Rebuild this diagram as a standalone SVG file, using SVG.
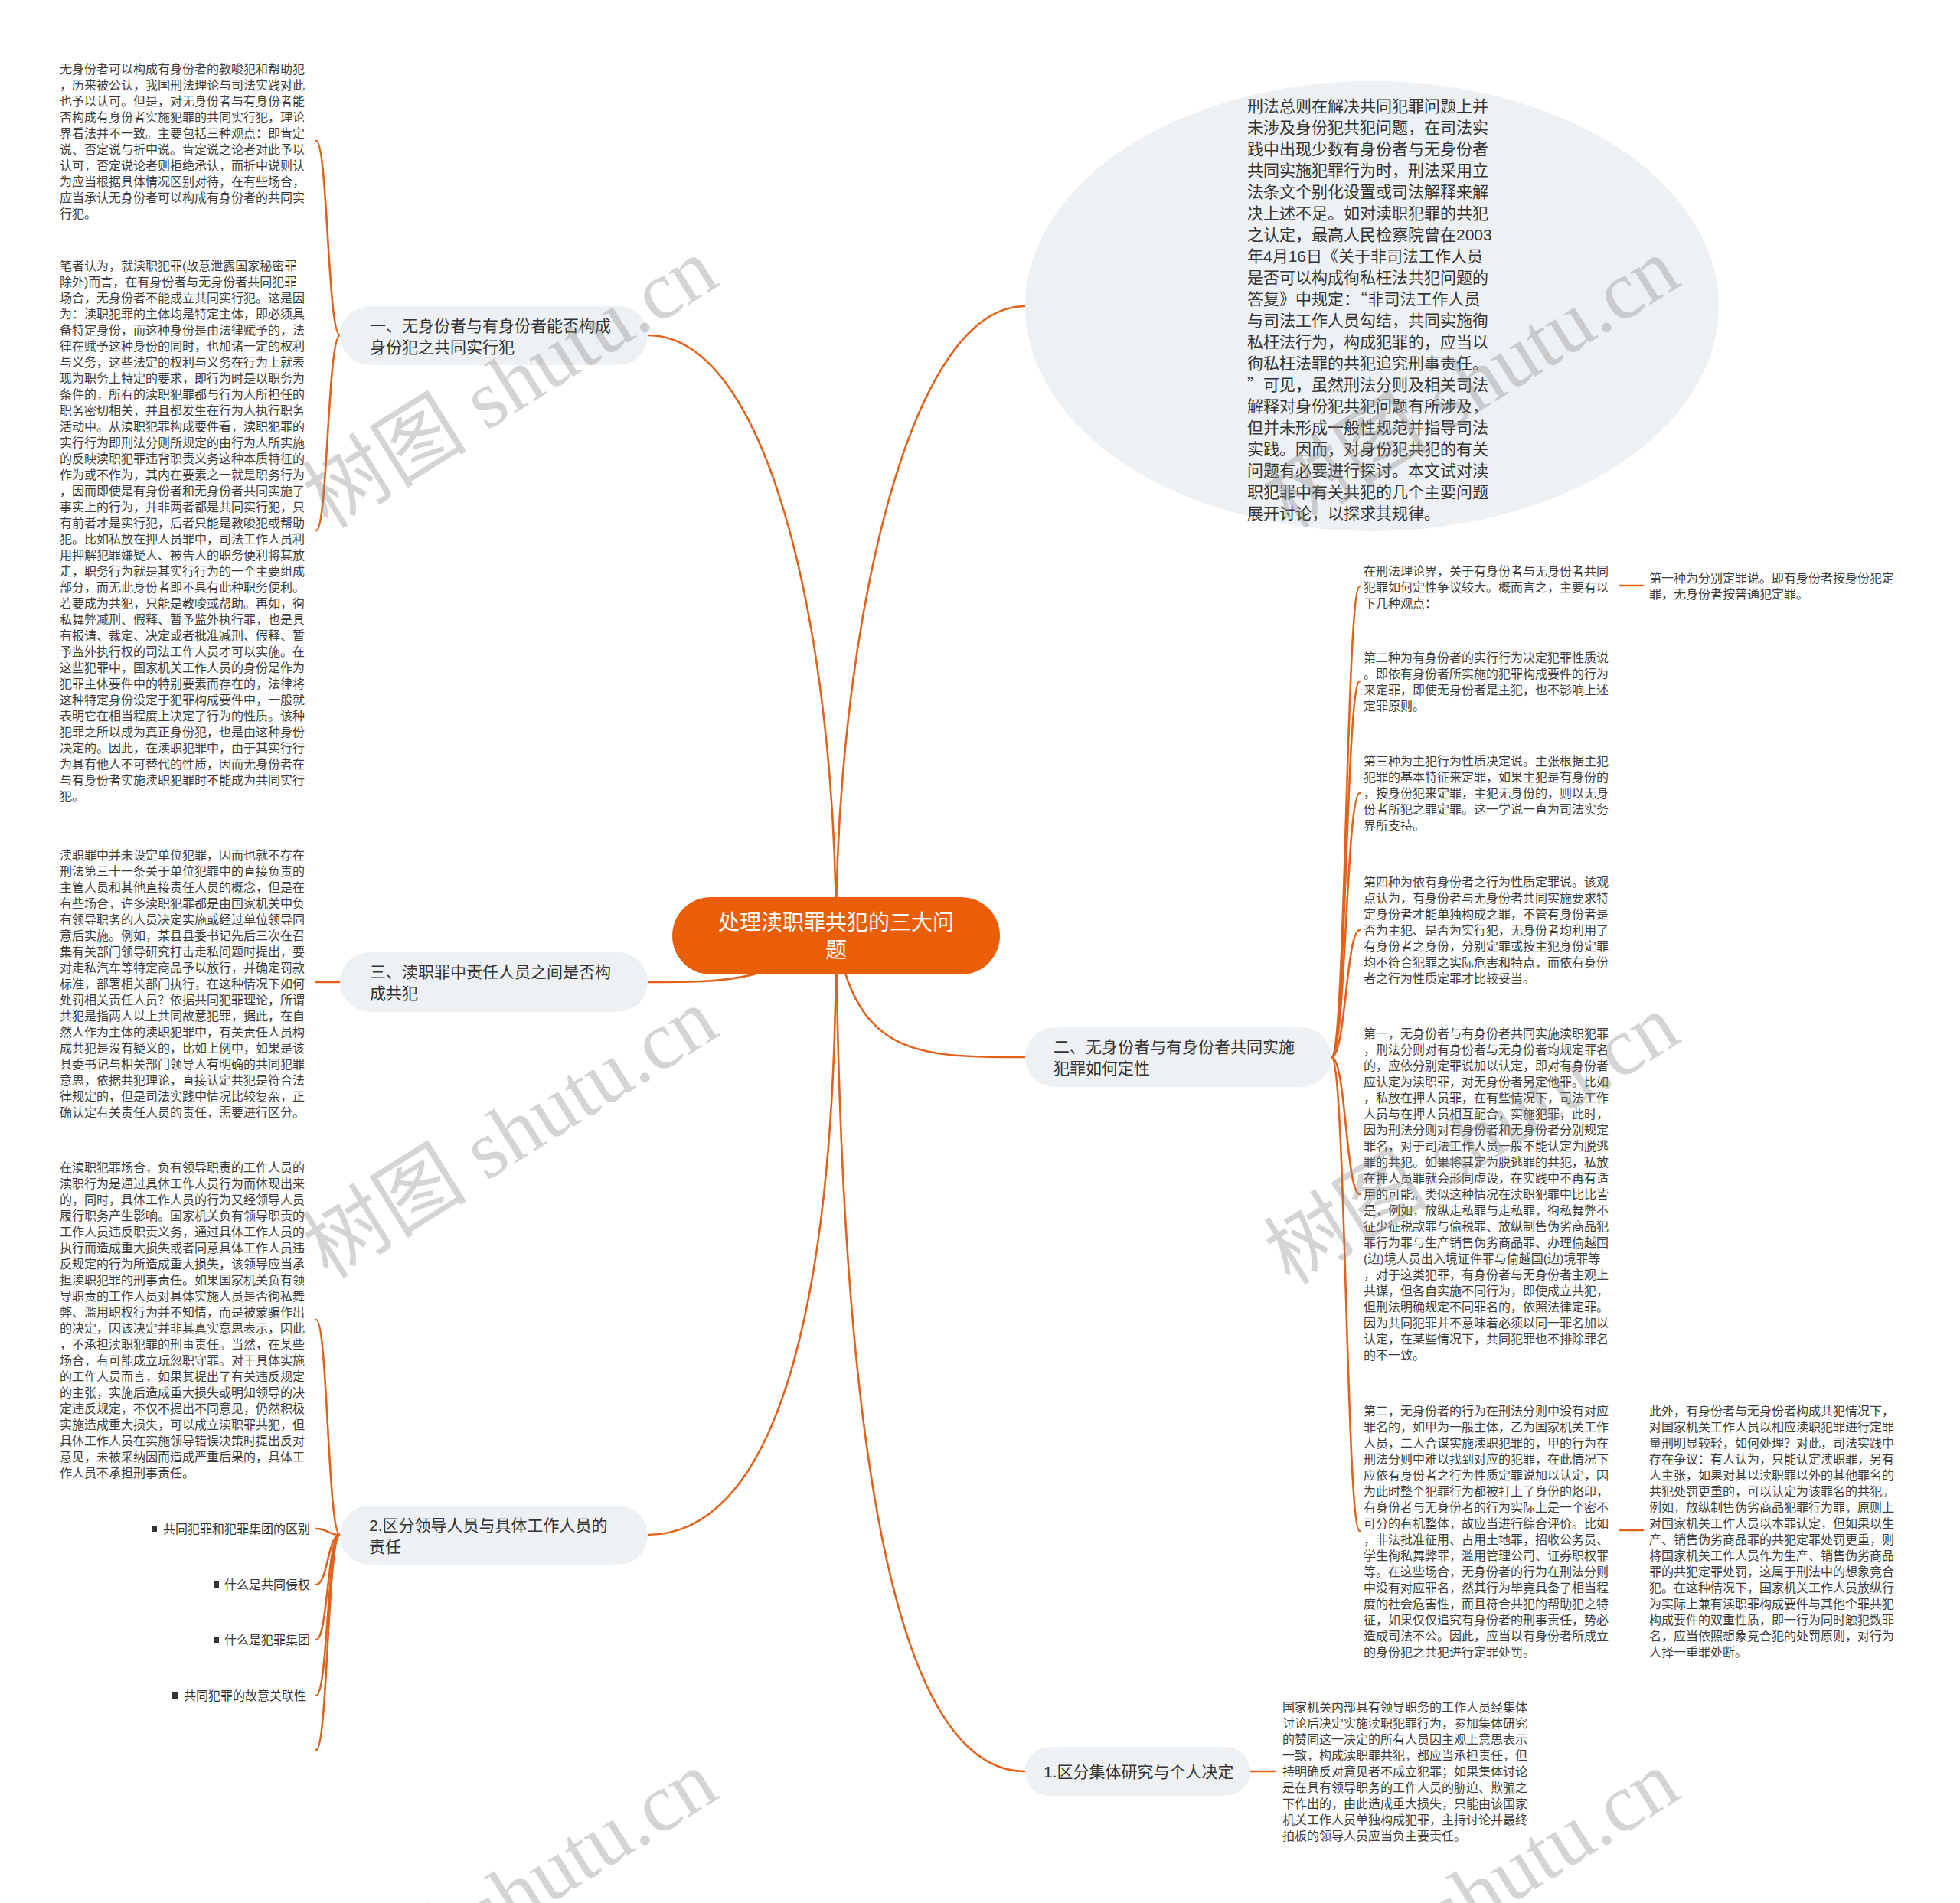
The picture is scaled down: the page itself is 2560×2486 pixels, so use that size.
<svg xmlns="http://www.w3.org/2000/svg" width="2560" height="2486" viewBox="0 0 2560 2486">
<style>
.bg{fill:#ffffff}
.link{fill:none;stroke:#E2621B;stroke-width:2.6;stroke-linecap:round}
.node{fill:#EEF1F4}
.center{fill:#EA5E08}
.nt{font-family:"Liberation Sans","Noto Sans CJK SC",sans-serif;font-size:21px;fill:#333333}
.cjk{font-family:"Noto Sans CJK SC",sans-serif}
.ct{font-family:"Liberation Sans","Noto Sans CJK SC",sans-serif;font-size:28px;fill:#ffffff;text-anchor:middle}
.st{font-family:"Liberation Sans","Noto Sans CJK SC",sans-serif;font-size:16px;fill:#3c3c3c}
.bt{font-family:"Liberation Sans","Noto Sans CJK SC",sans-serif;font-size:16px;fill:#333333;text-anchor:end}
.bul{fill:#333333}
.wm{font-family:"Liberation Serif","Noto Sans CJK SC",serif;font-size:108px;fill:#888888;fill-opacity:0.36;text-anchor:middle}
</style>
<rect class="bg" x="0" y="0" width="2560" height="2486"/>

<g id="connectors">
  <path class="link" d="M1092 1222 C1092 850, 1010 438, 846 438"/>
  <path class="link" d="M1092 1222 C1092 850, 1180 400, 1339 400"/>
  <path class="link" d="M1092 1222 C1000 1283, 950 1283, 846 1283"/>
  <path class="link" d="M1092 1222 C1092 1750, 1000 2005, 846 2005"/>
  <path class="link" d="M1092 1222 C1120 1381, 1200 1381, 1339 1381"/>
  <path class="link" d="M1092 1222 C1100 1950, 1180 2314, 1339 2314"/>
  <path class="link" d="M444 438 C428 438, 428 184, 413 184"/>
  <path class="link" d="M444 438 C428 438, 428 693, 413 693"/>
  <path class="link" d="M444 1283 L413 1283"/>
  <path class="link" d="M444 2005 C428 2005, 428 1724, 413 1724"/>
  <path class="link" d="M444 2005 C428 2005, 428 1997, 413 1997"/>
  <path class="link" d="M444 2005 C428 2005, 428 2070, 413 2070"/>
  <path class="link" d="M444 2005 C428 2005, 428 2142, 413 2142"/>
  <path class="link" d="M444 2005 C428 2005, 428 2215, 413 2215"/>
  <path class="link" d="M444 2005 C428 2005, 428 2286, 413 2286"/>
  <path class="link" d="M1739 1381 C1758 1381, 1758 766, 1776 766"/>
  <path class="link" d="M1739 1381 C1758 1381, 1758 890, 1776 890"/>
  <path class="link" d="M1739 1381 C1758 1381, 1758 1036, 1776 1036"/>
  <path class="link" d="M1739 1381 C1758 1381, 1758 1215, 1776 1215"/>
  <path class="link" d="M1739 1381 C1758 1381, 1758 1560, 1776 1560"/>
  <path class="link" d="M1739 1381 C1758 1381, 1758 2000, 1776 2000"/>
  <path class="link" d="M2116 765 L2146 765"/>
  <path class="link" d="M2116 1999 L2146 1999"/>
  <path class="link" d="M1633 2314 L1665 2314"/>
</g>

<g id="center">
  <rect class="center" x="878" y="1172" width="428" height="101" rx="50.5"/>
  <text class="ct" x="1092" y="1215">处理渎职罪共犯的三大问</text>
  <text class="ct" x="1092" y="1251">题</text>
</g>

<g id="node-intro">
  <ellipse class="node" cx="1792" cy="400" rx="453" ry="294"/>
  <text class="nt" x="1629" y="146">
    <tspan x="1629">刑法总则在解决共同犯罪问题上并</tspan>
    <tspan x="1629" dy="28">未涉及身份犯共犯问题，在司法实</tspan>
    <tspan x="1629" dy="28">践中出现少数有身份者与无身份者</tspan>
    <tspan x="1629" dy="28">共同实施犯罪行为时，刑法采用立</tspan>
    <tspan x="1629" dy="28">法条文个别化设置或司法解释来解</tspan>
    <tspan x="1629" dy="28">决上述不足。如对渎职犯罪的共犯</tspan>
    <tspan x="1629" dy="28">之认定，最高人民检察院曾在2003</tspan>
    <tspan x="1629" dy="28">年4月16日《关于非司法工作人员</tspan>
    <tspan x="1629" dy="28">是否可以构成徇私枉法共犯问题的</tspan>
    <tspan x="1629" dy="28">答复》中规定：<tspan class="cjk">“</tspan>非司法工作人员</tspan>
    <tspan x="1629" dy="28">与司法工作人员勾结，共同实施徇</tspan>
    <tspan x="1629" dy="28">私枉法行为，构成犯罪的，应当以</tspan>
    <tspan x="1629" dy="28">徇私枉法罪的共犯追究刑事责任。</tspan>
    <tspan x="1629" dy="28"><tspan class="cjk">”</tspan>可见，虽然刑法分则及相关司法</tspan>
    <tspan x="1629" dy="28">解释对身份犯共犯问题有所涉及，</tspan>
    <tspan x="1629" dy="28">但并未形成一般性规范并指导司法</tspan>
    <tspan x="1629" dy="28">实践。因而，对身份犯共犯的有关</tspan>
    <tspan x="1629" dy="28">问题有必要进行探讨。本文试对渎</tspan>
    <tspan x="1629" dy="28">职犯罪中有关共犯的几个主要问题</tspan>
    <tspan x="1629" dy="28">展开讨论，以探求其规律。</tspan>
  </text>
</g>

<g id="node-1">
  <rect class="node" x="444" y="400" width="402" height="77" rx="38.5"/>
  <text class="nt" x="483" y="433">
    <tspan x="483">一、无身份者与有身份者能否构成</tspan>
    <tspan x="483" dy="28">身份犯之共同实行犯</tspan>
  </text>
</g>

<g id="text-1a">
  <text class="st" x="78" y="96">
    <tspan x="78">无身份者可以构成有身份者的教唆犯和帮助犯</tspan>
    <tspan x="78" dy="21">，历来被公认，我国刑法理论与司法实践对此</tspan>
    <tspan x="78" dy="21">也予以认可。但是，对无身份者与有身份者能</tspan>
    <tspan x="78" dy="21">否构成有身份者实施犯罪的共同实行犯，理论</tspan>
    <tspan x="78" dy="21">界看法并不一致。主要包括三种观点：即肯定</tspan>
    <tspan x="78" dy="21">说、否定说与折中说。肯定说之论者对此予以</tspan>
    <tspan x="78" dy="21">认可，否定说论者则拒绝承认，而折中说则认</tspan>
    <tspan x="78" dy="21">为应当根据具体情况区别对待，在有些场合，</tspan>
    <tspan x="78" dy="21">应当承认无身份者可以构成有身份者的共同实</tspan>
    <tspan x="78" dy="21">行犯。</tspan>
  </text>
</g>

<g id="text-1b">
  <text class="st" x="78" y="353">
    <tspan x="78">笔者认为，就渎职犯罪(故意泄露国家秘密罪</tspan>
    <tspan x="78" dy="21">除外)而言，在有身份者与无身份者共同犯罪</tspan>
    <tspan x="78" dy="21">场合，无身份者不能成立共同实行犯。这是因</tspan>
    <tspan x="78" dy="21">为：渎职犯罪的主体均是特定主体，即必须具</tspan>
    <tspan x="78" dy="21">备特定身份，而这种身份是由法律赋予的，法</tspan>
    <tspan x="78" dy="21">律在赋予这种身份的同时，也加诸一定的权利</tspan>
    <tspan x="78" dy="21">与义务，这些法定的权利与义务在行为上就表</tspan>
    <tspan x="78" dy="21">现为职务上特定的要求，即行为时是以职务为</tspan>
    <tspan x="78" dy="21">条件的，所有的渎职犯罪都与行为人所担任的</tspan>
    <tspan x="78" dy="21">职务密切相关，并且都发生在行为人执行职务</tspan>
    <tspan x="78" dy="21">活动中。从渎职犯罪构成要件看，渎职犯罪的</tspan>
    <tspan x="78" dy="21">实行行为即刑法分则所规定的由行为人所实施</tspan>
    <tspan x="78" dy="21">的反映渎职犯罪违背职责义务这种本质特征的</tspan>
    <tspan x="78" dy="21">作为或不作为，其内在要素之一就是职务行为</tspan>
    <tspan x="78" dy="21">，因而即使是有身份者和无身份者共同实施了</tspan>
    <tspan x="78" dy="21">事实上的行为，并非两者都是共同实行犯，只</tspan>
    <tspan x="78" dy="21">有前者才是实行犯，后者只能是教唆犯或帮助</tspan>
    <tspan x="78" dy="21">犯。比如私放在押人员罪中，司法工作人员利</tspan>
    <tspan x="78" dy="21">用押解犯罪嫌疑人、被告人的职务便利将其放</tspan>
    <tspan x="78" dy="21">走，职务行为就是其实行行为的一个主要组成</tspan>
    <tspan x="78" dy="21">部分，而无此身份者即不具有此种职务便利。</tspan>
    <tspan x="78" dy="21">若要成为共犯，只能是教唆或帮助。再如，徇</tspan>
    <tspan x="78" dy="21">私舞弊减刑、假释、暂予监外执行罪，也是具</tspan>
    <tspan x="78" dy="21">有报请、裁定、决定或者批准减刑、假释、暂</tspan>
    <tspan x="78" dy="21">予监外执行权的司法工作人员才可以实施。在</tspan>
    <tspan x="78" dy="21">这些犯罪中，国家机关工作人员的身份是作为</tspan>
    <tspan x="78" dy="21">犯罪主体要件中的特别要素而存在的，法律将</tspan>
    <tspan x="78" dy="21">这种特定身份设定于犯罪构成要件中，一般就</tspan>
    <tspan x="78" dy="21">表明它在相当程度上决定了行为的性质。该种</tspan>
    <tspan x="78" dy="21">犯罪之所以成为真正身份犯，也是由这种身份</tspan>
    <tspan x="78" dy="21">决定的。因此，在渎职犯罪中，由于其实行行</tspan>
    <tspan x="78" dy="21">为具有他人不可替代的性质，因而无身份者在</tspan>
    <tspan x="78" dy="21">与有身份者实施渎职犯罪时不能成为共同实行</tspan>
    <tspan x="78" dy="21">犯。</tspan>
  </text>
</g>

<g id="node-3">
  <rect class="node" x="444" y="1244" width="402" height="78" rx="39"/>
  <text class="nt" x="483" y="1277">
    <tspan x="483">三、渎职罪中责任人员之间是否构</tspan>
    <tspan x="483" dy="28">成共犯</tspan>
  </text>
</g>

<g id="text-3">
  <text class="st" x="78" y="1123">
    <tspan x="78">渎职罪中并未设定单位犯罪，因而也就不存在</tspan>
    <tspan x="78" dy="21">刑法第三十一条关于单位犯罪中的直接负责的</tspan>
    <tspan x="78" dy="21">主管人员和其他直接责任人员的概念，但是在</tspan>
    <tspan x="78" dy="21">有些场合，许多渎职犯罪都是由国家机关中负</tspan>
    <tspan x="78" dy="21">有领导职务的人员决定实施或经过单位领导同</tspan>
    <tspan x="78" dy="21">意后实施。例如，某县县委书记先后三次在召</tspan>
    <tspan x="78" dy="21">集有关部门领导研究打击走私问题时提出，要</tspan>
    <tspan x="78" dy="21">对走私汽车等特定商品予以放行，并确定罚款</tspan>
    <tspan x="78" dy="21">标准，部署相关部门执行，在这种情况下如何</tspan>
    <tspan x="78" dy="21">处罚相关责任人员？依据共同犯罪理论，所谓</tspan>
    <tspan x="78" dy="21">共犯是指两人以上共同故意犯罪，据此，在自</tspan>
    <tspan x="78" dy="21">然人作为主体的渎职犯罪中，有关责任人员构</tspan>
    <tspan x="78" dy="21">成共犯是没有疑义的，比如上例中，如果是该</tspan>
    <tspan x="78" dy="21">县委书记与相关部门领导人有明确的共同犯罪</tspan>
    <tspan x="78" dy="21">意思，依据共犯理论，直接认定共犯是符合法</tspan>
    <tspan x="78" dy="21">律规定的，但是司法实践中情况比较复杂，正</tspan>
    <tspan x="78" dy="21">确认定有关责任人员的责任，需要进行区分。</tspan>
  </text>
</g>

<g id="node-2-lead">
  <rect class="node" x="444" y="1967" width="402" height="77" rx="38.5"/>
  <text class="nt" x="482" y="2000">
    <tspan x="482">2.区分领导人员与具体工作人员的</tspan>
    <tspan x="482" dy="28">责任</tspan>
  </text>
</g>

<g id="text-2-lead">
  <text class="st" x="78" y="1531">
    <tspan x="78">在渎职犯罪场合，负有领导职责的工作人员的</tspan>
    <tspan x="78" dy="21">渎职行为是通过具体工作人员行为而体现出来</tspan>
    <tspan x="78" dy="21">的，同时，具体工作人员的行为又经领导人员</tspan>
    <tspan x="78" dy="21">履行职务产生影响。国家机关负有领导职责的</tspan>
    <tspan x="78" dy="21">工作人员违反职责义务，通过具体工作人员的</tspan>
    <tspan x="78" dy="21">执行而造成重大损失或者同意具体工作人员违</tspan>
    <tspan x="78" dy="21">反规定的行为所造成重大损失，该领导应当承</tspan>
    <tspan x="78" dy="21">担渎职犯罪的刑事责任。如果国家机关负有领</tspan>
    <tspan x="78" dy="21">导职责的工作人员对具体实施人员是否徇私舞</tspan>
    <tspan x="78" dy="21">弊、滥用职权行为并不知情，而是被蒙骗作出</tspan>
    <tspan x="78" dy="21">的决定，因该决定并非其真实意思表示，因此</tspan>
    <tspan x="78" dy="21">，不承担渎职犯罪的刑事责任。当然，在某些</tspan>
    <tspan x="78" dy="21">场合，有可能成立玩忽职守罪。对于具体实施</tspan>
    <tspan x="78" dy="21">的工作人员而言，如果其提出了有关违反规定</tspan>
    <tspan x="78" dy="21">的主张，实施后造成重大损失或明知领导的决</tspan>
    <tspan x="78" dy="21">定违反规定，不仅不提出不同意见，仍然积极</tspan>
    <tspan x="78" dy="21">实施造成重大损失，可以成立渎职罪共犯，但</tspan>
    <tspan x="78" dy="21">具体工作人员在实施领导错误决策时提出反对</tspan>
    <tspan x="78" dy="21">意见，未被采纳因而造成严重后果的，具体工</tspan>
    <tspan x="78" dy="21">作人员不承担刑事责任。</tspan>
  </text>
</g>

<g id="bullet-1">
  <rect class="bul" x="198" y="1993" width="7" height="8"/>
  <text class="bt" x="405" y="2003">共同犯罪和犯罪集团的区别</text>
</g>
<g id="bullet-2">
  <rect class="bul" x="279" y="2066" width="7" height="8"/>
  <text class="bt" x="405" y="2076">什么是共同侵权</text>
</g>
<g id="bullet-3">
  <rect class="bul" x="279" y="2138" width="7" height="8"/>
  <text class="bt" x="405" y="2148">什么是犯罪集团</text>
</g>
<g id="bullet-4">
  <rect class="bul" x="225" y="2211" width="7" height="8"/>
  <text class="bt" x="400" y="2221">共同犯罪的故意关联性</text>
</g>

<g id="node-2">
  <rect class="node" x="1339" y="1342" width="400" height="78" rx="39"/>
  <text class="nt" x="1376" y="1375">
    <tspan x="1376">二、无身份者与有身份者共同实施</tspan>
    <tspan x="1376" dy="28">犯罪如何定性</tspan>
  </text>
</g>

<g id="text-2a">
  <text class="st" x="1781" y="752">
    <tspan x="1781">在刑法理论界，关于有身份者与无身份者共同</tspan>
    <tspan x="1781" dy="21">犯罪如何定性争议较大。概而言之，主要有以</tspan>
    <tspan x="1781" dy="21">下几种观点：</tspan>
  </text>
</g>
<g id="text-2a1">
  <text class="st" x="2154" y="761">
    <tspan x="2154">第一种为分别定罪说。即有身份者按身份犯定</tspan>
    <tspan x="2154" dy="21">罪，无身份者按普通犯定罪。</tspan>
  </text>
</g>
<g id="text-2b">
  <text class="st" x="1781" y="865">
    <tspan x="1781">第二种为有身份者的实行行为决定犯罪性质说</tspan>
    <tspan x="1781" dy="21">。即依有身份者所实施的犯罪构成要件的行为</tspan>
    <tspan x="1781" dy="21">来定罪，即使无身份者是主犯，也不影响上述</tspan>
    <tspan x="1781" dy="21">定罪原则。</tspan>
  </text>
</g>
<g id="text-2c">
  <text class="st" x="1781" y="1000">
    <tspan x="1781">第三种为主犯行为性质决定说。主张根据主犯</tspan>
    <tspan x="1781" dy="21">犯罪的基本特征来定罪，如果主犯是有身份的</tspan>
    <tspan x="1781" dy="21">，按身份犯来定罪，主犯无身份的，则以无身</tspan>
    <tspan x="1781" dy="21">份者所犯之罪定罪。这一学说一直为司法实务</tspan>
    <tspan x="1781" dy="21">界所支持。</tspan>
  </text>
</g>
<g id="text-2d">
  <text class="st" x="1781" y="1158">
    <tspan x="1781">第四种为依有身份者之行为性质定罪说。该观</tspan>
    <tspan x="1781" dy="21">点认为，有身份者与无身份者共同实施要求特</tspan>
    <tspan x="1781" dy="21">定身份者才能单独构成之罪，不管有身份者是</tspan>
    <tspan x="1781" dy="21">否为主犯、是否为实行犯，无身份者均利用了</tspan>
    <tspan x="1781" dy="21">有身份者之身份，分别定罪或按主犯身份定罪</tspan>
    <tspan x="1781" dy="21">均不符合犯罪之实际危害和特点，而依有身份</tspan>
    <tspan x="1781" dy="21">者之行为性质定罪才比较妥当。</tspan>
  </text>
</g>
<g id="text-2e">
  <text class="st" x="1781" y="1356">
    <tspan x="1781">第一，无身份者与有身份者共同实施渎职犯罪</tspan>
    <tspan x="1781" dy="21">，刑法分则对有身份者与无身份者均规定罪名</tspan>
    <tspan x="1781" dy="21">的，应依分别定罪说加以认定，即对有身份者</tspan>
    <tspan x="1781" dy="21">应认定为渎职罪，对无身份者另定他罪。比如</tspan>
    <tspan x="1781" dy="21">，私放在押人员罪，在有些情况下，司法工作</tspan>
    <tspan x="1781" dy="21">人员与在押人员相互配合，实施犯罪，此时，</tspan>
    <tspan x="1781" dy="21">因为刑法分则对有身份者和无身份者分别规定</tspan>
    <tspan x="1781" dy="21">罪名，对于司法工作人员一般不能认定为脱逃</tspan>
    <tspan x="1781" dy="21">罪的共犯。如果将其定为脱逃罪的共犯，私放</tspan>
    <tspan x="1781" dy="21">在押人员罪就会形同虚设，在实践中不再有适</tspan>
    <tspan x="1781" dy="21">用的可能。类似这种情况在渎职犯罪中比比皆</tspan>
    <tspan x="1781" dy="21">是，例如，放纵走私罪与走私罪，徇私舞弊不</tspan>
    <tspan x="1781" dy="21">征少征税款罪与偷税罪、放纵制售伪劣商品犯</tspan>
    <tspan x="1781" dy="21">罪行为罪与生产销售伪劣商品罪、办理偷越国</tspan>
    <tspan x="1781" dy="21">(边)境人员出入境证件罪与偷越国(边)境罪等</tspan>
    <tspan x="1781" dy="21">，对于这类犯罪，有身份者与无身份者主观上</tspan>
    <tspan x="1781" dy="21">共谋，但各自实施不同行为，即使成立共犯，</tspan>
    <tspan x="1781" dy="21">但刑法明确规定不同罪名的，依照法律定罪。</tspan>
    <tspan x="1781" dy="21">因为共同犯罪并不意味着必须以同一罪名加以</tspan>
    <tspan x="1781" dy="21">认定，在某些情况下，共同犯罪也不排除罪名</tspan>
    <tspan x="1781" dy="21">的不一致。</tspan>
  </text>
</g>
<g id="text-2f">
  <text class="st" x="1781" y="1849">
    <tspan x="1781">第二，无身份者的行为在刑法分则中没有对应</tspan>
    <tspan x="1781" dy="21">罪名的，如甲为一般主体，乙为国家机关工作</tspan>
    <tspan x="1781" dy="21">人员，二人合谋实施渎职犯罪的，甲的行为在</tspan>
    <tspan x="1781" dy="21">刑法分则中难以找到对应的犯罪，在此情况下</tspan>
    <tspan x="1781" dy="21">应依有身份者之行为性质定罪说加以认定，因</tspan>
    <tspan x="1781" dy="21">为此时整个犯罪行为都被打上了身份的烙印，</tspan>
    <tspan x="1781" dy="21">有身份者与无身份者的行为实际上是一个密不</tspan>
    <tspan x="1781" dy="21">可分的有机整体，故应当进行综合评价。比如</tspan>
    <tspan x="1781" dy="21">，非法批准征用、占用土地罪，招收公务员、</tspan>
    <tspan x="1781" dy="21">学生徇私舞弊罪，滥用管理公司、证券职权罪</tspan>
    <tspan x="1781" dy="21">等。在这些场合，无身份者的行为在刑法分则</tspan>
    <tspan x="1781" dy="21">中没有对应罪名，然其行为毕竟具备了相当程</tspan>
    <tspan x="1781" dy="21">度的社会危害性，而且符合共犯的帮助犯之特</tspan>
    <tspan x="1781" dy="21">征，如果仅仅追究有身份者的刑事责任，势必</tspan>
    <tspan x="1781" dy="21">造成司法不公。因此，应当以有身份者所成立</tspan>
    <tspan x="1781" dy="21">的身份犯之共犯进行定罪处罚。</tspan>
  </text>
</g>
<g id="text-2f1">
  <text class="st" x="2154" y="1849">
    <tspan x="2154">此外，有身份者与无身份者构成共犯情况下，</tspan>
    <tspan x="2154" dy="21">对国家机关工作人员以相应渎职犯罪进行定罪</tspan>
    <tspan x="2154" dy="21">量刑明显较轻，如何处理？对此，司法实践中</tspan>
    <tspan x="2154" dy="21">存在争议：有人认为，只能认定渎职罪，另有</tspan>
    <tspan x="2154" dy="21">人主张，如果对其以渎职罪以外的其他罪名的</tspan>
    <tspan x="2154" dy="21">共犯处罚更重的，可以认定为该罪名的共犯。</tspan>
    <tspan x="2154" dy="21">例如，放纵制售伪劣商品犯罪行为罪，原则上</tspan>
    <tspan x="2154" dy="21">对国家机关工作人员以本罪认定，但如果以生</tspan>
    <tspan x="2154" dy="21">产、销售伪劣商品罪的共犯定罪处罚更重，则</tspan>
    <tspan x="2154" dy="21">将国家机关工作人员作为生产、销售伪劣商品</tspan>
    <tspan x="2154" dy="21">罪的共犯定罪处罚，这属于刑法中的想象竞合</tspan>
    <tspan x="2154" dy="21">犯。在这种情况下，国家机关工作人员放纵行</tspan>
    <tspan x="2154" dy="21">为实际上兼有渎职罪构成要件与其他个罪共犯</tspan>
    <tspan x="2154" dy="21">构成要件的双重性质，即一行为同时触犯数罪</tspan>
    <tspan x="2154" dy="21">名，应当依照想象竞合犯的处罚原则，对行为</tspan>
    <tspan x="2154" dy="21">人择一重罪处断。</tspan>
  </text>
</g>

<g id="node-collective">
  <rect class="node" x="1339" y="2282" width="294" height="64" rx="32"/>
  <text class="nt" x="1363" y="2322">1.区分集体研究与个人决定</text>
</g>
<g id="text-collective">
  <text class="st" x="1675" y="2236">
    <tspan x="1675">国家机关内部具有领导职务的工作人员经集体</tspan>
    <tspan x="1675" dy="21">讨论后决定实施渎职犯罪行为，参加集体研究</tspan>
    <tspan x="1675" dy="21">的赞同这一决定的所有人员因主观上意思表示</tspan>
    <tspan x="1675" dy="21">一致，构成渎职罪共犯，都应当承担责任，但</tspan>
    <tspan x="1675" dy="21">持明确反对意见者不成立犯罪；如果集体讨论</tspan>
    <tspan x="1675" dy="21">是在具有领导职务的工作人员的胁迫、欺骗之</tspan>
    <tspan x="1675" dy="21">下作出的，由此造成重大损失，只能由该国家</tspan>
    <tspan x="1675" dy="21">机关工作人员单独构成犯罪，主持讨论并最终</tspan>
    <tspan x="1675" dy="21">拍板的领导人员应当负主要责任。</tspan>
  </text>
</g>

<g id="watermarks">
  <text class="wm" x="670" y="536" transform="rotate(-32 670 506)">树图 shutu.cn</text>
  <text class="wm" x="670" y="1516" transform="rotate(-32 670 1486)">树图 shutu.cn</text>
  <text class="wm" x="670" y="2512" transform="rotate(-32 670 2482)">树图 shutu.cn</text>
  <text class="wm" x="1926" y="536" transform="rotate(-32 1926 506)">树图 shutu.cn</text>
  <text class="wm" x="1926" y="1524" transform="rotate(-32 1926 1494)">树图 shutu.cn</text>
  <text class="wm" x="1926" y="2512" transform="rotate(-32 1926 2482)">树图 shutu.cn</text>
</g>
</svg>
